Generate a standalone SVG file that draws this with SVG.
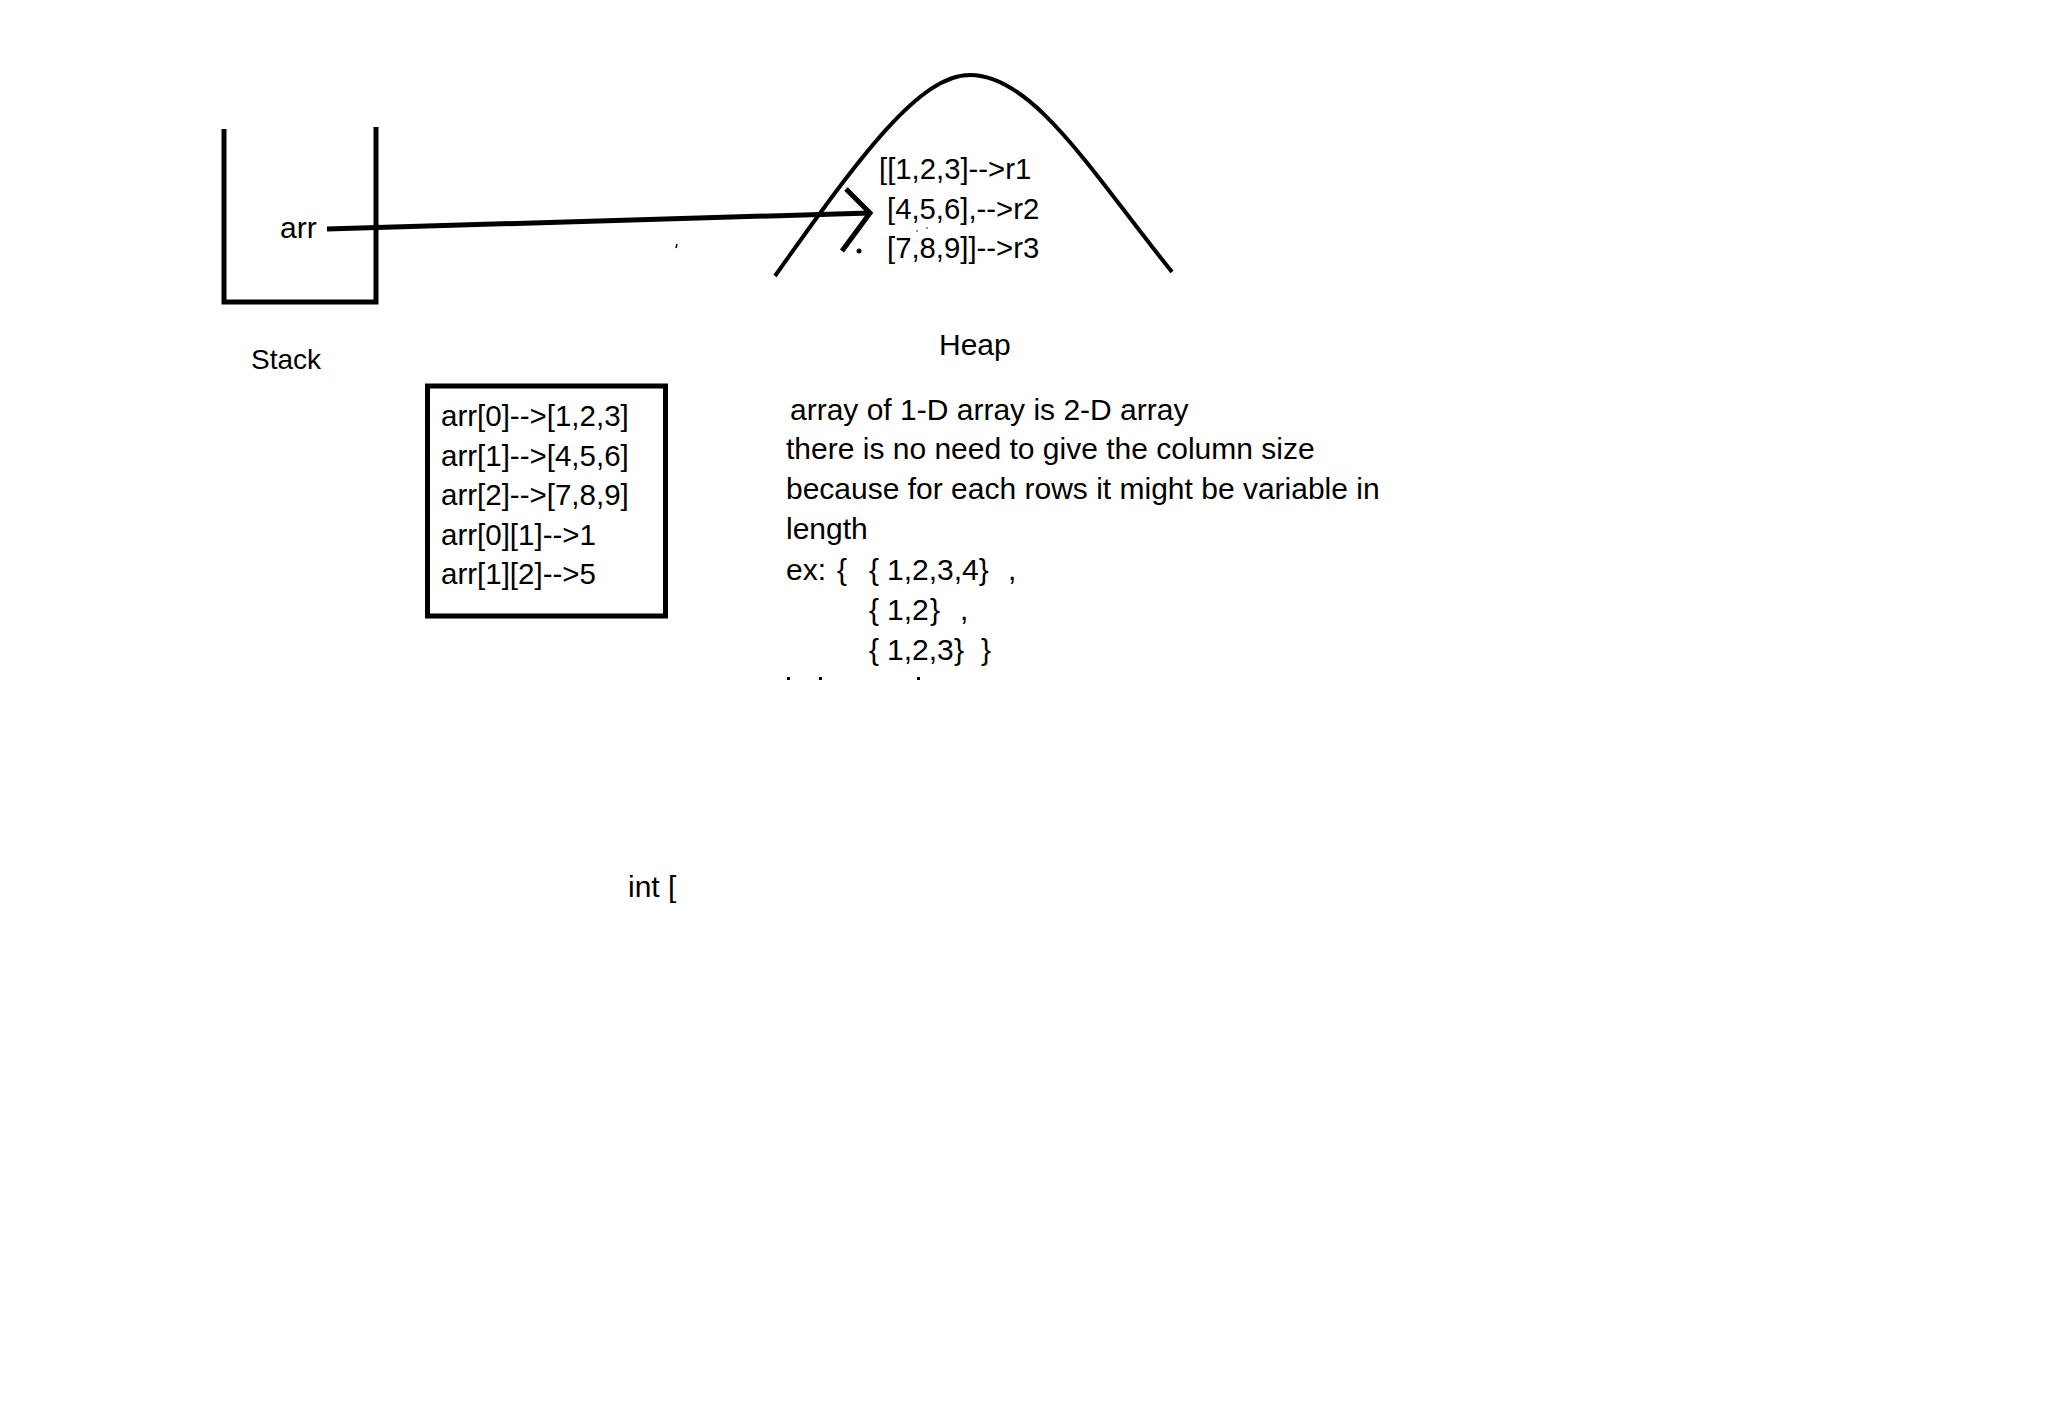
<svg xmlns="http://www.w3.org/2000/svg" width="2056" height="1426" viewBox="0 0 2056 1426">
<style>
  text { font-family: "Liberation Sans", Arial, sans-serif; fill: #000; }
  .t30 { font-size: 30px; }
  .box { font-size: 29.5px; }
  .heapt { font-size: 29.3px; }
  .ln { fill: none; stroke: #000; stroke-linecap: butt; stroke-linejoin: miter; }
</style>
<rect x="0" y="0" width="2056" height="1426" fill="#fff"/>

<g id="stack">
  <path class="ln" d="M224,129 V302 H376 V127" stroke-width="5"/>
  <text class="t30" x="280" y="238">arr</text>
  <text x="251" y="369" style="font-size:28px">Stack</text>
</g>

<g id="heap">
  <path class="ln" d="M775,276 C862,153 920,75 970,75 C1033,75 1091,171 1172,272" stroke-width="4"/>
  <text class="heapt" x="879" y="179">[[1,2,3]--&gt;r1</text>
  <text class="heapt" x="887" y="219">[4,5,6],--&gt;r2</text>
  <text class="heapt" x="887" y="258">[7,8,9]]--&gt;r3</text>
  <circle cx="917" cy="231" r="1" fill="#777"/>
  <circle cx="927" cy="228" r="1" fill="#777"/>
  <text class="t30" x="939" y="355">Heap</text>
</g>

<g id="index-box">
  <rect x="427.5" y="386" width="238" height="230" fill="none" stroke="#000" stroke-width="5"/>
  <text class="box" x="441" y="426">arr[0]--&gt;[1,2,3]</text>
  <text class="box" x="441" y="466">arr[1]--&gt;[4,5,6]</text>
  <text class="box" x="441" y="505">arr[2]--&gt;[7,8,9]</text>
  <text class="box" x="441" y="545">arr[0][1]--&gt;1</text>
  <text class="box" x="441" y="584">arr[1][2]--&gt;5</text>
</g>

<g id="notes">
  <text class="t30" x="790" y="420">array of 1-D array is 2-D array</text>
  <text class="t30" x="786" y="459">there is no need to give the column size</text>
  <text class="t30" x="786" y="499">because for each rows it might be variable in</text>
  <text class="t30" x="786" y="539">length</text>
  <text class="t30" x="786" y="580">ex:</text>
  <text class="t30" x="837" y="580">{</text>
  <text class="t30" x="869" y="580">{</text>
  <text class="t30" x="887" y="580">1,2,3,4}</text>
  <text class="t30" x="1008" y="580">,</text>
  <text class="t30" x="869" y="620">{</text>
  <text class="t30" x="887" y="620">1,2</text>
  <text class="t30" x="930" y="620">}</text>
  <text class="t30" x="960" y="620">,</text>
  <text class="t30" x="869" y="660">{</text>
  <text class="t30" x="887" y="660">1,2,3</text>
  <text class="t30" x="954" y="660">}</text>
  <text class="t30" x="981" y="660">}</text>
  <rect x="787" y="677" width="3" height="3" fill="#000"/>
  <rect x="819" y="677" width="3" height="3" fill="#000"/>
  <rect x="917" y="677" width="3" height="3" fill="#000"/>
</g>

<g id="int-label">
  <text class="t30" x="628" y="897">int [</text>
</g>

<g id="connectors">
  <line class="ln" x1="327" y1="229" x2="870" y2="213" stroke-width="5"/>
  <polyline class="ln" points="846,189 870,213 842,251" stroke-width="5"/>
  <circle cx="859" cy="251" r="2.5" fill="#000"/>
  <line class="ln" x1="677" y1="244" x2="676" y2="248" stroke-width="1.5"/>
</g>
</svg>
